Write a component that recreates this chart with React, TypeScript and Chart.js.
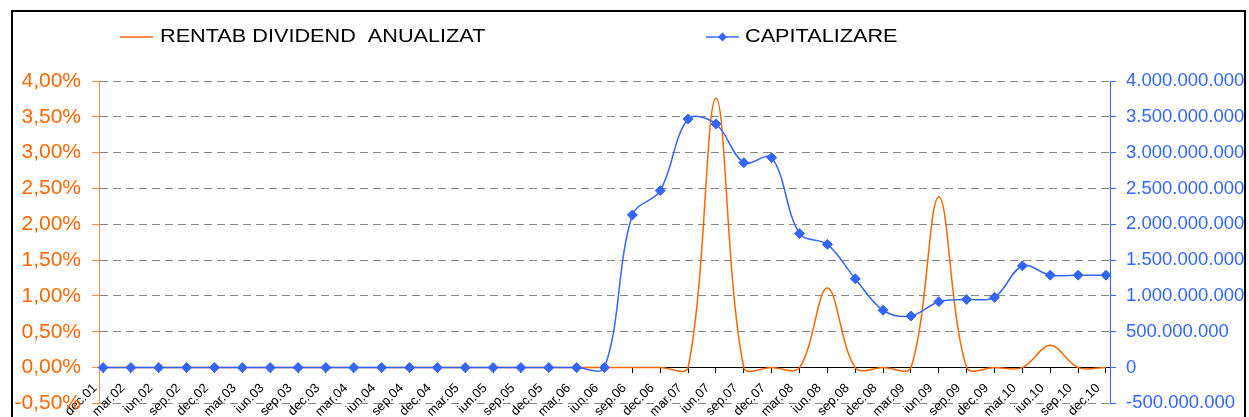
import { useEffect, useRef } from "react";
import { Chart, registerables } from "chart.js";

Chart.register(...registerables);

const categories = [
  "dec.01", "mar.02", "iun.02", "sep.02", "dec.02", "mar.03", "iun.03", "sep.03", "dec.03",
  "mar.04", "iun.04", "sep.04", "dec.04", "mar.05", "iun.05", "sep.05", "dec.05",
  "mar.06", "iun.06", "sep.06", "dec.06", "mar.07", "iun.07", "sep.07", "dec.07",
  "mar.08", "iun.08", "sep.08", "dec.08", "mar.09", "iun.09", "sep.09", "dec.09",
  "mar.10", "iun.10", "sep.10", "dec.10",
];

// RENTAB DIVIDEND ANUALIZAT (%)
const rentabDividend = [
  0, 0, 0, 0, 0, 0, 0, 0, 0,
  0, 0, 0, 0, 0, 0, 0, 0,
  0, 0, 0, 0, 0, 3.76, 0, 0,
  0, 1.11, 0, 0, 0, 2.38, 0, 0,
  0, 0.31, 0, 0,
];

// CAPITALIZARE
const capitalizare = [
  0, 0, 0, 0, 0, 0, 0, 0, 0,
  0, 0, 0, 0, 0, 0, 0, 0,
  0, 0, 2130000000, 2470000000, 3470000000, 3400000000, 2860000000, 2930000000,
  1870000000, 1720000000, 1240000000, 800000000, 720000000, 920000000, 950000000, 980000000,
  1420000000, 1290000000, 1290000000, 1290000000,
];

const seriesNames = ["RENTAB DIVIDEND  ANUALIZAT", "CAPITALIZARE"];

const leftAxis = { min: -0.5, max: 4, step: 0.5 };
const rightAxis = { min: -500000000, max: 4000000000, step: 500000000 };

const ORANGE = "#FF6600";
const ORANGE_AXIS = "#FF8A4A";
const BLUE = "#3366FF";
const FONT = "'Liberation Sans', Arial, Helvetica, sans-serif";

function fmtPercent(v: number): string {
  return v.toFixed(2).replace(".", ",") + "%";
}

function fmtThousands(v: number): string {
  const neg = v < 0;
  const s = Math.round(Math.abs(v)).toString().replace(/\B(?=(\d{3})+(?!\d))/g, ".");
  return (neg ? "-" : "") + s;
}

const legendPlugin = {
  id: "customLegend",
  afterDraw(chart: any) {
    const ctx = chart.ctx as CanvasRenderingContext2D;
    ctx.save();
    const y = 37;
    const drawText = (text: string, x: number) => {
      ctx.save();
      ctx.translate(x, 37);
      ctx.scale(1.165, 1);
      ctx.font = `18.6px ${FONT}`;
      ctx.fillStyle = "#000";
      ctx.textBaseline = "middle";
      ctx.textAlign = "left";
      ctx.fillText(text, 0, 0);
      ctx.restore();
    };
    ctx.strokeStyle = ORANGE_AXIS;
    ctx.lineWidth = 2;
    ctx.beginPath();
    ctx.moveTo(120, y);
    ctx.lineTo(153, y);
    ctx.stroke();
    drawText(seriesNames[0], 160);
    ctx.strokeStyle = "#6E93FF";
    ctx.beginPath();
    ctx.moveTo(706, y);
    ctx.lineTo(739, y);
    ctx.stroke();
    ctx.fillStyle = BLUE;
    ctx.beginPath();
    ctx.moveTo(722.5, y - 4.5);
    ctx.lineTo(727, y);
    ctx.lineTo(722.5, y + 4.5);
    ctx.lineTo(718, y);
    ctx.closePath();
    ctx.fill();
    drawText(seriesNames[1], 745);
    ctx.restore();
  },
};

export default function App() {
  const ref = useRef<HTMLCanvasElement | null>(null);

  useEffect(() => {
    if (!ref.current) return;
    const chart = new Chart(ref.current, {
      type: "line",
      data: {
        labels: categories,
        datasets: [
          {
            label: seriesNames[1],
            data: capitalizare,
            yAxisID: "y1",
            borderColor: BLUE,
            backgroundColor: BLUE,
            borderWidth: 1.5,
            tension: 0.35,
            pointStyle: "rectRot",
            pointRadius: 5,
            pointBorderWidth: 1,
            pointBackgroundColor: BLUE,
            pointBorderColor: BLUE,
            fill: false,
          },
          {
            label: seriesNames[0],
            data: rentabDividend,
            yAxisID: "y",
            borderColor: ORANGE,
            backgroundColor: ORANGE,
            borderWidth: 1.5,
            tension: 0.35,
            pointRadius: 0,
            fill: false,
          },
        ],
      },
      options: {
        responsive: false,
        animation: false,
        devicePixelRatio: 1,
        layout: { padding: { left: 0, right: 0, top: 81, bottom: 4 } },
        plugins: {
          legend: { display: false },
          tooltip: { enabled: false },
        },
        scales: {
          x: {
            type: "category",
            position: { y: 0 } as any,
            offset: false,
            afterBuildTicks: (s: any) => {
              s._startValue -= 0.145;
              s._valueRange += 0.29;
            },
            grid: {
              display: true,
              drawOnChartArea: false,
              drawTicks: true,
              tickLength: 5,
              color: "#000",
              tickColor: "#000",
            },
            border: { display: true, color: "#000", width: 1 },
            ticks: {
              autoSkip: false,
              maxRotation: 45,
              minRotation: 45,
              padding: 8,
              labelOffset: -8,
              color: "#000",
              font: { family: FONT, size: 13, lineHeight: 1.2 },
            },
          },
          y: {
            type: "linear",
            position: "left",
            min: leftAxis.min,
            max: leftAxis.max,
            afterFit: (s: any) => {
              s.width = 99;
            },
            ticks: {
              stepSize: leftAxis.step,
              color: ORANGE,
              padding: 11,
              font: { family: FONT, size: 21 },
              callback: (v: any) => fmtPercent(Number(v)),
            },
            grid: {
              color: "#868686",
              lineWidth: 1,
              drawOnChartArea: true,
              tickLength: 7,
              tickColor: ORANGE_AXIS,
            },
            border: { display: true, color: ORANGE_AXIS, width: 1, dash: [8, 5] },
          },
          y1: {
            type: "linear",
            position: "right",
            min: rightAxis.min,
            max: rightAxis.max,
            afterFit: (s: any) => {
              s.width = 139;
            },
            ticks: {
              stepSize: rightAxis.step,
              color: BLUE,
              padding: 10,
              font: { family: FONT, size: 18.5 },
              callback: (v: any) => fmtThousands(Number(v)),
            },
            grid: {
              drawOnChartArea: false,
              tickLength: 6,
              color: BLUE,
              tickColor: BLUE,
            },
            border: { display: true, color: BLUE, width: 1 },
          },
        },
      },
      plugins: [legendPlugin],
    });
    return () => chart.destroy();
  }, []);

  return (
    <div style={{ position: "absolute", left: 0, top: 0, width: 1249, height: 417, overflow: "hidden", background: "#fff" }}>
      <div
        style={{
          position: "absolute",
          left: 11,
          top: 10,
          width: 1231,
          height: 440,
          border: "2px solid #000",
          boxSizing: "content-box",
        }}
      />
      <canvas ref={ref} width={1249} height={427} style={{ position: "absolute", left: 0, top: 0 }} />
    </div>
  );
}
